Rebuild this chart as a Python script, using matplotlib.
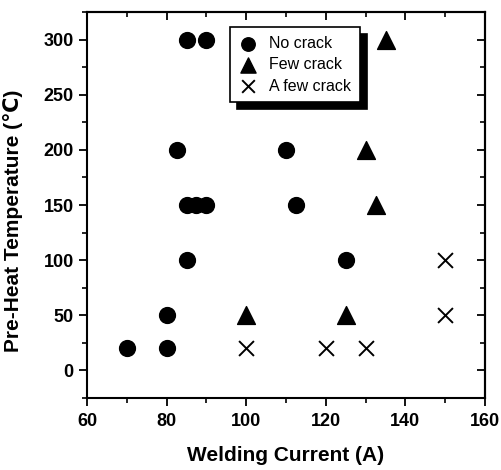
import matplotlib.pyplot as plt
from matplotlib.ticker import MultipleLocator

plt.rcParams['font.family'] = ['Liberation Sans', 'DejaVu Sans']
plt.rcParams['font.weight'] = 'bold'

# No crack
no_x = [85, 90, 82.5, 110, 85, 87.5, 90, 112.5, 85, 125, 80, 70, 80]
no_y = [300, 300, 200, 200, 150, 150, 150, 150, 100, 100, 50, 20, 20]
# Few crack
few_x = [135, 130, 132.5, 100, 125]
few_y = [300, 200, 150, 50, 50]
# A few crack
afew_x = [100, 120, 130, 150, 150]
afew_y = [20, 20, 20, 100, 50]

fig = plt.figure(figsize=(5.01, 4.70), dpi=100)
ax = fig.add_axes([87 / 501, 1 - 398 / 470, 398 / 501, 386 / 470])

ax.scatter(no_x, no_y, marker='o', s=130, color='black', label='No crack', zorder=3)
ax.scatter(few_x, few_y, marker='^', s=165, color='black', label='Few crack', zorder=3)
ax.scatter(afew_x, afew_y, marker='x', s=115, color='black', linewidths=1.4,
           label='A few crack', zorder=3)

ax.set_xlim(60, 160)
ax.set_ylim(-25, 325)
ax.xaxis.set_major_locator(MultipleLocator(20))
ax.xaxis.set_minor_locator(MultipleLocator(10))
ax.yaxis.set_major_locator(MultipleLocator(50))
ax.yaxis.set_minor_locator(MultipleLocator(25))

for sp in ax.spines.values():
    sp.set_linewidth(1.5)

ax.tick_params(axis='both', which='major', direction='out', length=6, width=1.3,
               labelsize=13)
ax.tick_params(axis='both', which='minor', direction='out', length=3.5, width=1.2)
ax.tick_params(axis='x', pad=5)

# inward ticks on top and right
top = ax.secondary_xaxis('top')
top.xaxis.set_major_locator(MultipleLocator(20))
top.xaxis.set_minor_locator(MultipleLocator(10))
top.tick_params(which='major', direction='in', length=6, width=1.3, labeltop=False)
top.tick_params(which='minor', direction='in', length=3.5, width=1.2)
top.spines['top'].set_linewidth(1.5)
right = ax.secondary_yaxis('right')
right.yaxis.set_major_locator(MultipleLocator(50))
right.yaxis.set_minor_locator(MultipleLocator(25))
right.tick_params(which='major', direction='in', length=6, width=1.3, labelright=False)
right.tick_params(which='minor', direction='in', length=3.5, width=1.2)
right.spines['right'].set_linewidth(1.5)

ax.set_xlabel('Welding Current (A)', fontsize=15, fontweight='bold', labelpad=11)
ax.set_ylabel('Pre-Heat Temperature (\u2103)', fontsize=15, fontweight='bold')
ax.yaxis.set_label_coords(-0.16, 0.46)

leg = ax.legend(loc='upper left', bbox_to_anchor=(0.359, 0.961), borderaxespad=0,
                fancybox=False, edgecolor='black', framealpha=1, fontsize=11.5,
                shadow={'color': 'black', 'alpha': 1, 'ox': 5, 'oy': -5},
                handlelength=1.2, handletextpad=0.7, borderpad=0.55,
                labelspacing=0.4, markerscale=0.85)
leg.get_frame().set_linewidth(1.2)
for t in leg.get_texts():
    t.set_fontweight('normal')

fig.savefig('out.png', dpi=100)
